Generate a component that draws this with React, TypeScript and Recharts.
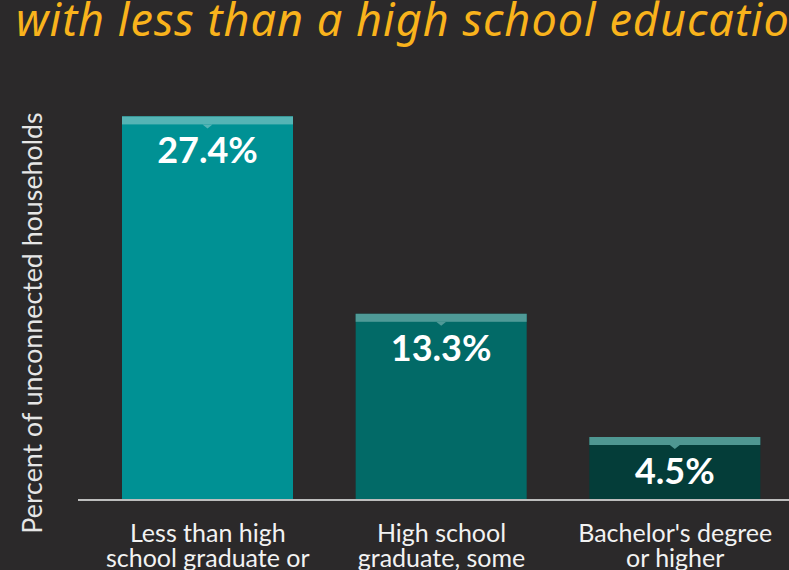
import React from "react";
import { BarChart, Bar, XAxis, YAxis, Cell, LabelList } from "recharts";

const categories = ["Less than high school graduate or", "High school graduate, some", "Bachelor's degree or higher"];
const tickLines = [
  ["Less than high", "school graduate or"],
  ["High school", "graduate, some"],
  ["Bachelor's degree", "or higher"],
];
const percents = [27.4, 13.3, 4.5];

const BAR_COLORS = ["#009194", "#026a67", "#043d39"];
const CAP_COLORS = ["#55b4b5", "#4f9a97", "#4f9792"];
const BG = "#2b292a";

const data = categories.map((name, i) => ({ name, value: percents[i], idx: i }));

function CappedBar(props: any) {
  const { x, y, width, height, payload } = props;
  const i = payload.idx;
  const cx = x + width / 2;
  return (
    <g>
      <rect x={x} y={y} width={width} height={height} fill={BAR_COLORS[i]} />
      <rect x={x} y={y} width={width} height={8} fill={CAP_COLORS[i]} />
      <path d={`M${cx - 5},${y + 8} L${cx + 5},${y + 8} L${cx},${y + 12} Z`} fill={CAP_COLORS[i]} />
    </g>
  );
}

function ValueLabel(props: any) {
  const { x, y, width, value } = props;
  return (
    <text
      x={x + width / 2}
      y={y + 47}
      textAnchor="middle"
      fill="#ffffff"
      fontFamily="Lato"
      fontWeight={700}
      fontSize={36}
    >
      {`${Number(value).toFixed(1)}%`}
    </text>
  );
}

function CategoryTick(props: any) {
  const { x, y, index } = props;
  const lines = tickLines[index] || [];
  return (
    <text x={x} y={y} textAnchor="middle" fill="#f2f2f2" fontFamily="Lato" fontSize={25}>
      {lines.map((l, k) => (
        <tspan key={k} x={x} dy={k === 0 ? 34 : 25}>
          {l}
        </tspan>
      ))}
    </text>
  );
}

export default function App() {
  return (
    <div
      style={{
        position: "fixed",
        left: 0,
        top: 0,
        width: 789,
        height: 570,
        background: BG,
        overflow: "hidden",
      }}
    >
      <div
        style={{
          position: "absolute",
          left: 16,
          top: -12,
          whiteSpace: "nowrap",
          color: "#f9b31c",
          fontFamily: "'Noto Sans'",
          fontStyle: "italic",
          fontSize: 45,
          letterSpacing: 1,
        }}
      >
        with less than a high school education
      </div>
      <BarChart
        width={800}
        height={570}
        data={data}
        margin={{ top: 80, right: 8, bottom: 0, left: 0 }}
      >
        <YAxis
          domain={[0, 30]}
          width={78}
          tick={false}
          axisLine={false}
          tickLine={false}
          label={{
            value: "Percent of unconnected households",
            angle: -90,
            position: "insideLeft",
            dx: 27,
            dy: 33,
            fill: "#e6e6e6",
            fontFamily: "Lato",
            fontSize: 26.8,
            style: { textAnchor: "middle" },
          }}
        />
        <XAxis
          dataKey="name"
          height={70}
          padding={{ left: 13, right: 0 }}
          axisLine={{ stroke: "#bdbdbd", strokeWidth: 2 }}
          tickLine={false}
          interval={0}
          tick={<CategoryTick />}
        />
        <Bar dataKey="value" barSize={171} shape={<CappedBar />} isAnimationActive={false}>
          {data.map((d, i) => (
            <Cell key={i} fill={BAR_COLORS[i]} />
          ))}
          <LabelList dataKey="value" content={<ValueLabel />} />
        </Bar>
      </BarChart>
    </div>
  );
}
